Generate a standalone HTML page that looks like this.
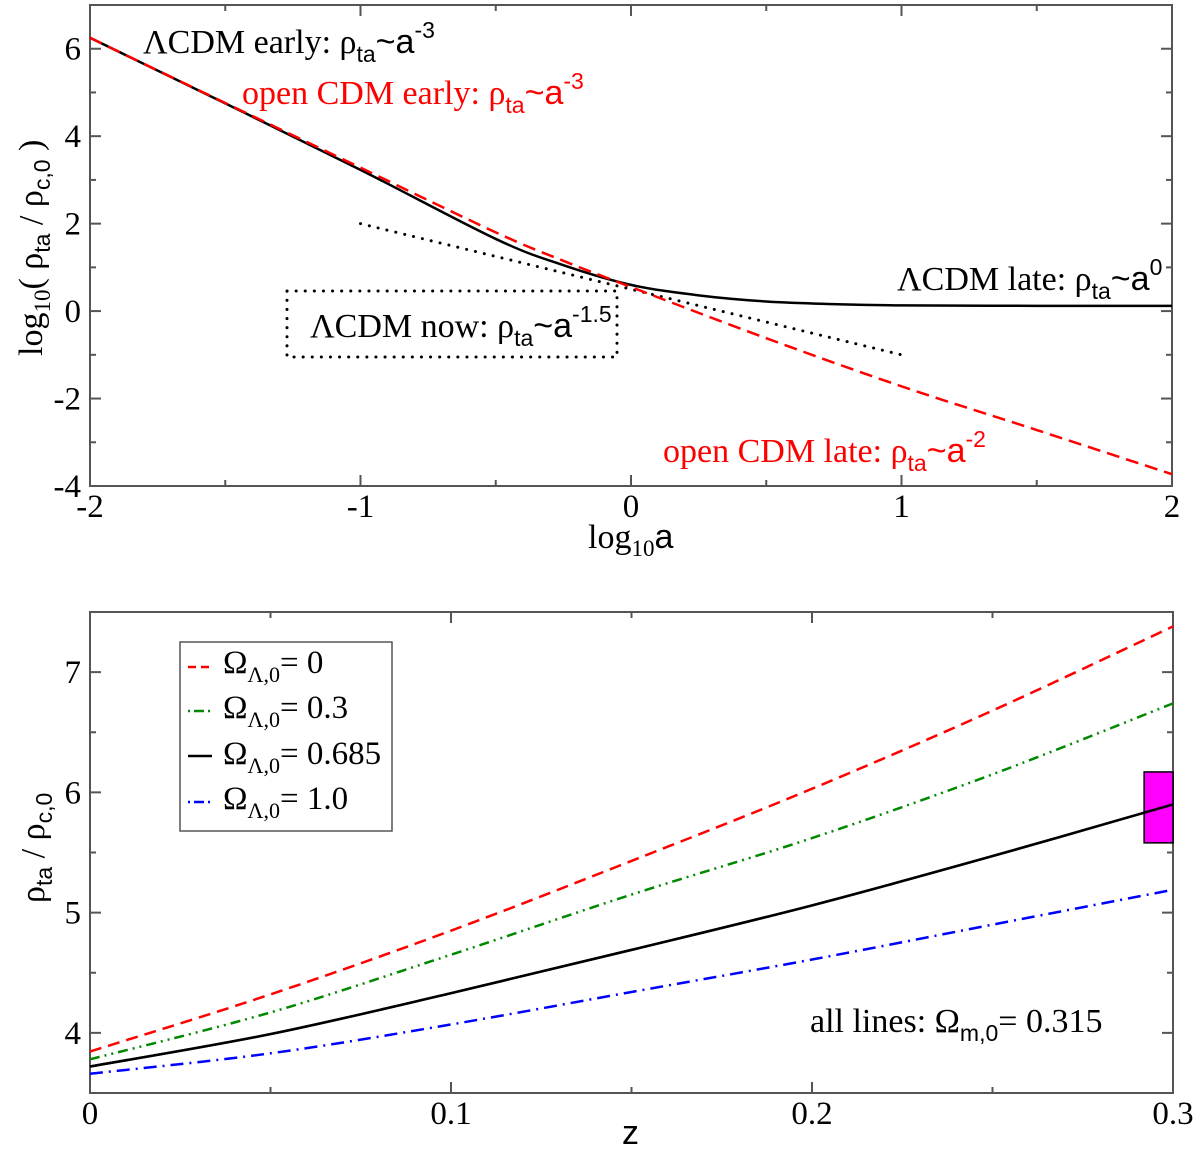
<!DOCTYPE html>
<html><head><meta charset="utf-8">
<style>
html,body{margin:0;padding:0;background:#fff;}
svg{display:block;}
text{font-family:"Liberation Serif",serif;}
.s{font-family:"Liberation Sans",sans-serif;}
</style></head>
<body>
<svg id="chart" width="1200" height="1153" viewBox="0 0 1200 1153" xmlns="http://www.w3.org/2000/svg">
<g id="top"></g>
<g id="bot"></g>
</svg>
<script>
// ---------- Top panel data ----------
const topX = [-2, -1.5, -1, -0.5, -0.25, 0, 0.25, 0.5, 0.75, 1, 1.5, 2];
const lcdmY = [6.25, 4.75, 3.23, 1.65, 1.05, 0.6, 0.36, 0.22, 0.16, 0.13, 0.12, 0.12];
const openX = [-2, -1.5, -1, -0.5, -0.25, 0, 0.5, 1, 1.5, 2];
const openY = [6.25, 4.76, 3.28, 1.8, 1.15, 0.55, -0.62, -1.72, -2.72, -3.73];
const nowX = [-1, 1];
const nowY = [2.0, -1.0];
const topXTicks = [-2, -1, 0, 1, 2];
const topXLabels = ["-2", "-1", "0", "1", "2"];
const topYTicks = [-4, -2, 0, 2, 4, 6];
const topYLabels = ["-4", "-2", "0", "2", "4", "6"];
// ---------- Bottom panel data ----------
const zVals = [0, 0.05, 0.1, 0.15, 0.2, 0.25, 0.3];
const ser0 = [3.845, 4.32, 4.85, 5.43, 6.03, 6.68, 7.38];
const ser03 = [3.78, 4.17, 4.65, 5.15, 5.62, 6.15, 6.74];
const ser0685 = [3.72, 3.99, 4.33, 4.69, 5.06, 5.47, 5.90];
const ser1 = [3.66, 3.83, 4.07, 4.34, 4.61, 4.90, 5.19];
const obsZ = [0.292, 0.3];
const obsY = [5.58, 6.17];
const botXTicks = [0, 0.1, 0.2, 0.3];
const botXLabels = ["0", "0.1", "0.2", "0.3"];
const botYTicks = [4, 5, 6, 7];
const botYLabels = ["4", "5", "6", "7"];

const NS = "http://www.w3.org/2000/svg";
function mk(parent, tag, attrs){const e=document.createElementNS(NS,tag);for(const k in attrs)e.setAttribute(k,attrs[k]);parent.appendChild(e);return e;}

const T = {x0:90,x1:1172,y0:486,y1:5,xmin:-2,xmax:2,ymin:-4,ymax:7};
const B = {x0:90,x1:1173,y0:1093,y1:612,xmin:0,xmax:0.3,ymin:3.5,ymax:7.5};
function sx(P,v){return P.x0+(v-P.xmin)/(P.xmax-P.xmin)*(P.x1-P.x0);}
function sy(P,v){return P.y0-(v-P.ymin)/(P.ymax-P.ymin)*(P.y0-P.y1);}
function smooth(P,xs,ys){
  const pts=xs.map((x,i)=>[sx(P,x),sy(P,ys[i])]);
  let d="M"+pts[0][0]+","+pts[0][1];
  for(let i=0;i<pts.length-1;i++){
    const p0=pts[Math.max(0,i-1)],p1=pts[i],p2=pts[i+1],p3=pts[Math.min(pts.length-1,i+2)];
    const c1=[p1[0]+(p2[0]-p0[0])/6,p1[1]+(p2[1]-p0[1])/6];
    const c2=[p2[0]-(p3[0]-p1[0])/6,p2[1]-(p3[1]-p1[1])/6];
    d+=" C"+c1[0]+","+c1[1]+" "+c2[0]+","+c2[1]+" "+p2[0]+","+p2[1];
  }
  return d;
}
function frame(g,P,xt,xl,yt,yl,xminor,yminor){
  const f=mk(g,"rect",{x:P.x0,y:P.y1,width:P.x1-P.x0,height:P.y0-P.y1,fill:"none",stroke:"#555","stroke-width":2});
  
  
  xt.forEach((v,i)=>{const x=sx(P,v);
    mk(g,"line",{x1:x,x2:x,y1:P.y0,y2:P.y0-11,stroke:"#555","stroke-width":2});
    mk(g,"line",{x1:x,x2:x,y1:P.y1,y2:P.y1+11,stroke:"#555","stroke-width":2});
    const t=mk(g,"text",{x:x,y:P.y0+31,"font-size":33,"text-anchor":"middle"});t.textContent=xl[i];
    
    
  });
  xminor.forEach(v=>{const x=sx(P,v);
    mk(g,"line",{x1:x,x2:x,y1:P.y0,y2:P.y0-6,stroke:"#555","stroke-width":2});
    mk(g,"line",{x1:x,x2:x,y1:P.y1,y2:P.y1+6,stroke:"#555","stroke-width":2});});
  yt.forEach((v,i)=>{const y=sy(P,v);
    mk(g,"line",{x1:P.x0,x2:P.x0+11,y1:y,y2:y,stroke:"#555","stroke-width":2});
    mk(g,"line",{x1:P.x1,x2:P.x1-11,y1:y,y2:y,stroke:"#555","stroke-width":2});
    const t=mk(g,"text",{x:P.x0-9,y:y+11,"font-size":33,"text-anchor":"end"});t.textContent=yl[i];
    
    
  });
  yminor.forEach(v=>{const y=sy(P,v);
    mk(g,"line",{x1:P.x0,x2:P.x0+6,y1:y,y2:y,stroke:"#555","stroke-width":2});
    mk(g,"line",{x1:P.x1,x2:P.x1-6,y1:y,y2:y,stroke:"#555","stroke-width":2});});
}
const gt=document.getElementById("top"), gb=document.getElementById("bot");
frame(gt,T,topXTicks,topXLabels,topYTicks,topYLabels,[-1.5,-0.5,0.5,1.5],[-3,-1,1,3,5]);
frame(gb,B,botXTicks,botXLabels,botYTicks,botYLabels,[0.05,0.15,0.25],[4.5,5.5,6.5]);

let p=mk(gt,"path",{d:smooth(T,nowX,nowY),fill:"none",stroke:"#000","stroke-width":3,"stroke-dasharray":"0.1,9","stroke-linecap":"round"});


p=mk(gt,"path",{d:smooth(T,topX,lcdmY),fill:"none",stroke:"#000","stroke-width":2.5});


p=mk(gt,"path",{d:smooth(T,openX,openY),fill:"none",stroke:"#f00","stroke-width":2.5,"stroke-dasharray":"13,7"});


p=mk(gt,"rect",{x:287,y:291,width:330,height:66,fill:"none",stroke:"#000","stroke-width":3,"stroke-dasharray":"0.1,9","stroke-linecap":"round"});



const series=[[ser0,"#f00","12,7","series-omega-lambda-0"],[ser03,"#080","10,5,2,5,2,5","series-omega-lambda-0.3"],[ser0685,"#000","none","series-omega-lambda-0.685"],[ser1,"#00f","13,6,2,6","series-omega-lambda-1.0"]];
series.forEach(s=>{
  const e=mk(gb,"path",{d:smooth(B,zVals,s[0]),fill:"none",stroke:s[1],"stroke-width":2.5,"stroke-dasharray":s[2]});
  
  
});
const ob=mk(gb,"rect",{x:sx(B,obsZ[0]),y:sy(B,obsY[1]),width:sx(B,obsZ[1])-sx(B,obsZ[0]),height:sy(B,obsY[0])-sy(B,obsY[1]),fill:"#f0f",stroke:"#000","stroke-width":1.5});


const bl=mk(gb,"path",{d:smooth(B,zVals,ser0685),fill:"none",stroke:"#000","stroke-width":2.5});


</script>
<svg width="1200" height="1153" style="position:absolute;left:0;top:0" xmlns="http://www.w3.org/2000/svg">
<g font-family="Liberation Serif, serif" font-size="34">
<text x="143" y="53">ΛCDM early: ρ<tspan class="s" font-size="23" dy="9">ta</tspan><tspan class="s" dy="-9">~a</tspan><tspan class="s" font-size="23" dy="-15">-3</tspan></text>
<text x="242" y="104" fill="#f00">open CDM early: ρ<tspan class="s" font-size="23" dy="9">ta</tspan><tspan class="s" dy="-9">~a</tspan><tspan class="s" font-size="23" dy="-15">-3</tspan></text>
<text x="310" y="337">ΛCDM now: ρ<tspan class="s" font-size="23" dy="9">ta</tspan><tspan class="s" dy="-9">~a</tspan><tspan class="s" font-size="23" dy="-15">-1.5</tspan></text>
<text x="897" y="290">ΛCDM late: ρ<tspan class="s" font-size="23" dy="9">ta</tspan><tspan class="s" dy="-9">~a</tspan><tspan class="s" font-size="23" dy="-15">0</tspan></text>
<text x="663" y="462" fill="#f00">open CDM late: ρ<tspan class="s" font-size="23" dy="9">ta</tspan><tspan class="s" dy="-9">~a</tspan><tspan class="s" font-size="23" dy="-15">-2</tspan></text>
<text x="588" y="548">log<tspan font-size="23" dy="8">10</tspan><tspan class="s" dy="-8">a</tspan></text>
<text transform="translate(42,356) rotate(-90)">log<tspan font-size="23" dy="8">10</tspan><tspan dy="-8">( ρ</tspan><tspan class="s" font-size="23" dy="8">ta</tspan><tspan dy="-8"> / ρ</tspan><tspan class="s" font-size="23" dy="8">c,0</tspan><tspan dy="-8"> )</tspan></text>
<text x="622" y="1144" class="s">z</text>
<text transform="translate(44,903) rotate(-90)">ρ<tspan class="s" font-size="23" dy="8">ta</tspan><tspan dy="-8"> / ρ</tspan><tspan class="s" font-size="23" dy="8">c,0</tspan></text>
<text x="810" y="1032">all lines: Ω<tspan class="s" font-size="23" dy="9">m,0</tspan><tspan dy="-9">= 0.315</tspan></text>
</g>
<g>
<rect x="180" y="642" width="212" height="189" fill="#fff" stroke="#555" stroke-width="1.5"/>
<line x1="188" x2="212" y1="667" y2="667" stroke="#f00" stroke-width="2.5" stroke-dasharray="8,5"/>
<line x1="188" x2="212" y1="711" y2="711" stroke="#080" stroke-width="2.5" stroke-dasharray="2,4,10,4"/>
<line x1="188" x2="212" y1="756" y2="756" stroke="#000" stroke-width="2.5"/>
<line x1="188" x2="212" y1="802" y2="802" stroke="#00f" stroke-width="2.5" stroke-dasharray="2,4,10,4"/>
<g font-family="Liberation Serif, serif" font-size="33">
<text x="223" y="673">Ω<tspan font-size="22" dy="9">Λ,0</tspan><tspan dy="-9">= 0</tspan></text>
<text x="223" y="718">Ω<tspan font-size="22" dy="9">Λ,0</tspan><tspan dy="-9">= 0.3</tspan></text>
<text x="223" y="764">Ω<tspan font-size="22" dy="9">Λ,0</tspan><tspan dy="-9">= 0.685</tspan></text>
<text x="223" y="809">Ω<tspan font-size="22" dy="9">Λ,0</tspan><tspan dy="-9">= 1.0</tspan></text>
</g>
</g>
</svg>
</body></html>
